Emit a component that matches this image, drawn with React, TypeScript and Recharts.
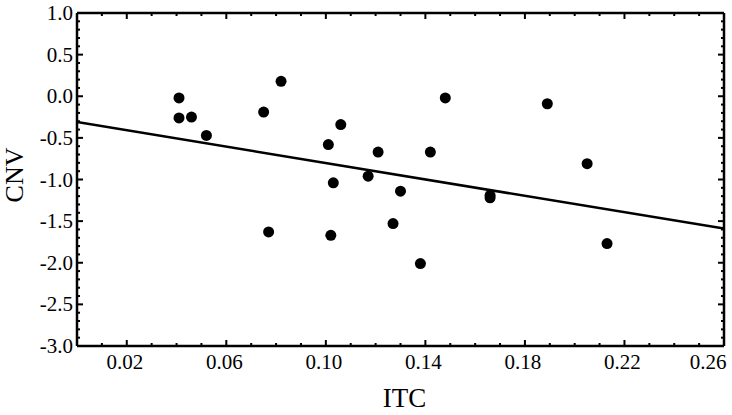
import React from 'react';
import { ScatterChart, Scatter, XAxis, YAxis } from 'recharts';

const itcValues = [0.041, 0.041, 0.046, 0.052, 0.075, 0.082, 0.077, 0.106, 0.101, 0.103, 0.102, 0.121, 0.117, 0.130, 0.127, 0.138, 0.142, 0.148, 0.166, 0.166, 0.189, 0.205, 0.213];
const cnvValues = [-0.02, -0.26, -0.25, -0.47, -0.19, 0.18, -1.63, -0.34, -0.58, -1.04, -1.67, -0.67, -0.96, -1.14, -1.53, -2.01, -0.67, -0.02, -1.19, -1.22, -0.09, -0.81, -1.77];

const fitX = [0, 0.26];
const fitY = [-0.31, -1.59];

const xDomain: [number, number] = [0, 0.26];
const yDomain: [number, number] = [-3, 1];
const xTicks = Array.from({ length: 27 }, (_, i) => i / 100);
const yTicks = Array.from({ length: 41 }, (_, i) => (i - 30) / 10);

const points = itcValues.map((x, i) => ({ x, y: cnvValues[i] }));
const fitLine = fitX.map((x, i) => ({ x, y: fitY[i] }));

const FONT = '"Liberation Serif", "Times New Roman", serif';

const isMajorX = (v: number) => {
  const n = Math.round(v * 100);
  return n >= 2 && (n - 2) % 4 === 0;
};
const isMajorY = (v: number) => Math.round(v * 10) % 5 === 0;

const BottomTick = (props: any) => {
  const { x, y, payload } = props;
  const v = payload.value;
  const major = isMajorX(v);
  const last = Math.round(v * 100) === 26;
  return (
    <g>
      <line x1={x} x2={x} y1={y} y2={y - (major ? 6 : 3)} stroke="#000" strokeWidth={2} />
      {major && (
        <text x={x + (last ? -16 : -2)} y={y + 23} textAnchor="middle" fontFamily={FONT} fontSize={21} fill="#000">
          {v.toFixed(2)}
        </text>
      )}
    </g>
  );
};

const TopTick = (props: any) => {
  const { x, y, payload } = props;
  const major = isMajorX(payload.value);
  return <line x1={x} x2={x} y1={y} y2={y + (major ? 6 : 3)} stroke="#000" strokeWidth={2} />;
};

const LeftTick = (props: any) => {
  const { x, y, payload } = props;
  const v = payload.value;
  const major = isMajorY(v);
  return (
    <g>
      <line x1={x} x2={x + (major ? 6 : 3)} y1={y} y2={y} stroke="#000" strokeWidth={2} />
      {major && (
        <text x={x - 4} y={y + 7} textAnchor="end" fontFamily={FONT} fontSize={21} fill="#000">
          {v.toFixed(1)}
        </text>
      )}
    </g>
  );
};

const RightTick = (props: any) => {
  const { x, y, payload } = props;
  const major = isMajorY(payload.value);
  return <line x1={x} x2={x - (major ? 6 : 3)} y1={y} y2={y} stroke="#000" strokeWidth={2} />;
};

const Dot = (props: any) => <circle cx={props.cx} cy={props.cy} r={5.5} fill="#000" />;
const NoShape = () => <g />;

export default function App() {
  return (
    <div style={{ position: 'absolute', left: 0, top: 0, width: 732, height: 415, background: '#fff' }}>
      <ScatterChart width={732} height={415} margin={{ top: 12, right: 7, bottom: 0, left: 0 }}>
        <XAxis
          xAxisId="b"
          type="number"
          dataKey="x"
          domain={xDomain}
          ticks={xTicks}
          allowDataOverflow
          interval={0}
          height={69}
          tickSize={0}
          tickMargin={0}
          tickLine={false}
          axisLine={{ stroke: '#000', strokeWidth: 2.5 }}
          tick={<BottomTick />}
          label={{ value: 'ITC', position: 'insideBottom', offset: 8, dx: 4, fontFamily: FONT, fontSize: 27, fill: '#000' }}
        />
        <XAxis
          xAxisId="t"
          orientation="top"
          type="number"
          dataKey="x"
          domain={xDomain}
          ticks={xTicks}
          allowDataOverflow
          interval={0}
          height={1}
          tickSize={0}
          tickMargin={0}
          tickLine={false}
          axisLine={{ stroke: '#000', strokeWidth: 2.5 }}
          tick={<TopTick />}
        />
        <YAxis
          yAxisId="l"
          type="number"
          dataKey="y"
          domain={yDomain}
          ticks={yTicks}
          allowDataOverflow
          interval={0}
          width={77}
          tickSize={0}
          tickMargin={0}
          tickLine={false}
          axisLine={{ stroke: '#000', strokeWidth: 2.5 }}
          tick={<LeftTick />}
          label={{
            content: () => (
              <text x={23} y={175} transform="rotate(-90 23 175)" textAnchor="middle" fontFamily={FONT} fontSize={26} fill="#000">
                CNV
              </text>
            ),
          }}
        />
        <YAxis
          yAxisId="r"
          orientation="right"
          type="number"
          dataKey="y"
          domain={yDomain}
          ticks={yTicks}
          allowDataOverflow
          interval={0}
          width={1}
          tickSize={0}
          tickMargin={0}
          tickLine={false}
          axisLine={{ stroke: '#000', strokeWidth: 2.5 }}
          tick={<RightTick />}
        />
        <Scatter xAxisId="t" yAxisId="r" data={points} shape={<NoShape />} isAnimationActive={false} />
        <Scatter
          xAxisId="b"
          yAxisId="l"
          data={fitLine}
          line={{ stroke: '#000', strokeWidth: 2.5 }}
          shape={<NoShape />}
          isAnimationActive={false}
        />
        <Scatter xAxisId="b" yAxisId="l" data={points} shape={<Dot />} isAnimationActive={false} />
      </ScatterChart>
    </div>
  );
}
